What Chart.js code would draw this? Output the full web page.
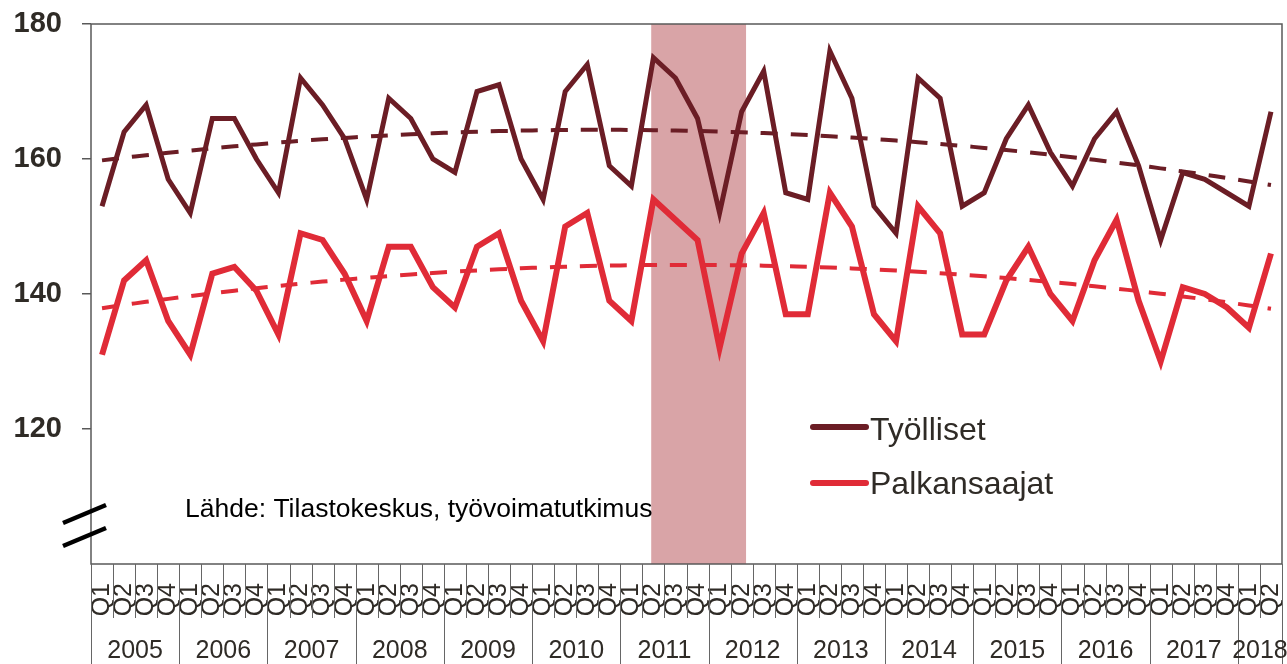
<!DOCTYPE html>
<html>
<head>
<meta charset="utf-8">
<script src="https://cdn.jsdelivr.net/npm/chart.js@4.4.1/dist/chart.umd.min.js"></script>
<style>
  html, body { margin: 0; padding: 0; background: #fff; }
  canvas { display: block; }
</style>
</head>
<body>
<canvas id="chart" width="1287" height="664"></canvas>
<script>
var years = ['2005', '2006', '2007', '2008', '2009', '2010', '2011', '2012', '2013', '2014', '2015', '2016', '2017', '2018'];
var quarters = [
  'Q1', 'Q2', 'Q3', 'Q4', 'Q1', 'Q2', 'Q3', 'Q4', 'Q1', 'Q2', 'Q3', 'Q4', 'Q1', 'Q2', 'Q3', 'Q4',
  'Q1', 'Q2', 'Q3', 'Q4', 'Q1', 'Q2', 'Q3', 'Q4', 'Q1', 'Q2', 'Q3', 'Q4', 'Q1', 'Q2', 'Q3', 'Q4',
  'Q1', 'Q2', 'Q3', 'Q4', 'Q1', 'Q2', 'Q3', 'Q4', 'Q1', 'Q2', 'Q3', 'Q4', 'Q1', 'Q2', 'Q3', 'Q4',
  'Q1', 'Q2', 'Q3', 'Q4', 'Q1', 'Q2'
];

// Työlliset (employed), quarterly
var tyolliset = [
  153, 164, 168, 157,
  152, 166, 166, 160,
  155, 172, 168, 163,
  154, 169, 166, 160,
  158, 170, 171, 160,
  154, 170, 174, 159,
  156, 175, 172, 166,
  152, 167, 173, 155,
  154, 176, 169, 153,
  149, 172, 169, 153,
  155, 163, 168, 161,
  156, 163, 167, 159,
  148, 158, 157, 155,
  153, 167
];

// Palkansaajat (wage earners), quarterly
var palkansaajat = [
  131, 142, 145, 136,
  131, 143, 144, 140.5,
  134, 149, 148, 143,
  136, 147, 147, 141,
  138, 147, 149, 139,
  133, 150, 152, 139,
  136, 154, 151, 148,
  132, 146, 152, 137,
  137, 155, 150, 137,
  133, 153, 149, 134,
  134, 142, 147, 140,
  136, 145, 151, 139,
  130, 141, 140, 138,
  135, 146
];

var yTicks = [120, 140, 160, 180];

var darkRed = '#6b1d25';
var red = '#e02b37';
var shadeColor = '#d9a4a7';
var textColor = '#2f2b26';
var axisColor = '#595959';
var font = '"Liberation Sans", Arial, sans-serif';

// shaded period (category positions), 2011 Q2 .. 2012 Q2
var shadeFrom = 24.9, shadeTo = 29.2;

// 2nd order polynomial trend, like the spreadsheet trendline
function polyTrend(values) {
  var n = values.length, s = [0, 0, 0, 0, 0], t = [0, 0, 0];
  for (var i = 0; i < n; i++) {
    var p = 1;
    for (var k = 0; k < 5; k++) { s[k] += p; if (k < 3) t[k] += p * values[i]; p *= i; }
  }
  var m = [[s[0], s[1], s[2], t[0]], [s[1], s[2], s[3], t[1]], [s[2], s[3], s[4], t[2]]];
  for (var c = 0; c < 3; c++) {
    for (var r = c + 1; r < 3; r++) {
      var f = m[r][c] / m[c][c];
      for (var q = c; q < 4; q++) m[r][q] -= f * m[c][q];
    }
  }
  var b = [0, 0, 0];
  for (var r2 = 2; r2 >= 0; r2--) {
    var sum = m[r2][3];
    for (var q2 = r2 + 1; q2 < 3; q2++) sum -= m[r2][q2] * b[q2];
    b[r2] = sum / m[r2][r2];
  }
  return values.map(function(v, i) { return b[0] + b[1] * i + b[2] * i * i; });
}

var decorations = {
  id: 'decorations',
  beforeDatasetsDraw: function(chart) {
    var ctx = chart.ctx, area = chart.chartArea, x = chart.scales.x;
    var x0 = x.getPixelForValue(shadeFrom), x1 = x.getPixelForValue(shadeTo);
    ctx.save();
    ctx.fillStyle = shadeColor;
    ctx.fillRect(x0, area.top, x1 - x0, area.bottom - area.top);
    ctx.restore();
  },
  afterDraw: function(chart) {
    var ctx = chart.ctx, area = chart.chartArea, x = chart.scales.x;
    var H = chart.height;
    ctx.save();

    // frame
    ctx.strokeStyle = axisColor;
    ctx.lineWidth = 1.5;
    ctx.strokeRect(area.left, area.top, area.right - area.left, area.bottom - area.top);

    // quarter separators and year separators
    ctx.lineWidth = 1;
    ctx.strokeStyle = '#666';
    for (var k = 0; k <= quarters.length; k++) {
      var px = Math.round(x.getPixelForValue(k - 0.5)) + 0.5;
      var full = (k % 4 === 0) || k === quarters.length;
      ctx.beginPath();
      ctx.moveTo(px, area.bottom);
      ctx.lineTo(px, full ? H : area.bottom + 54);
      ctx.stroke();
    }

    // year labels
    ctx.fillStyle = textColor;
    ctx.font = '25px ' + font;
    ctx.textAlign = 'center';
    ctx.textBaseline = 'alphabetic';
    years.forEach(function(yr, i) {
      var a = i * 4, b = Math.min(a + 4, quarters.length) - 1;
      var cx = (x.getPixelForValue(a - 0.5) + x.getPixelForValue(b + 0.5)) / 2;
      ctx.fillText(yr, cx, 658);
    });

    // legend
    ctx.lineCap = 'round';
    ctx.lineWidth = 6;
    ctx.strokeStyle = darkRed;
    ctx.beginPath(); ctx.moveTo(813, 427); ctx.lineTo(866, 427); ctx.stroke();
    ctx.strokeStyle = red;
    ctx.beginPath(); ctx.moveTo(813, 483); ctx.lineTo(866, 483); ctx.stroke();
    ctx.font = '32px ' + font;
    ctx.textAlign = 'left';
    ctx.fillStyle = textColor;
    ctx.fillText('Työlliset', 870, 440);
    ctx.fillText('Palkansaajat', 870, 494);

    // source
    ctx.font = '26.5px ' + font;
    ctx.fillStyle = '#000';
    ctx.fillText('Lähde: Tilastokeskus, työvoimatutkimus', 185, 517);

    // axis break marks
    ctx.lineCap = 'butt';
    ctx.lineWidth = 4.5;
    ctx.strokeStyle = '#000';
    ctx.beginPath(); ctx.moveTo(63, 523); ctx.lineTo(106, 505); ctx.stroke();
    ctx.beginPath(); ctx.moveTo(63, 546); ctx.lineTo(106, 528); ctx.stroke();

    ctx.restore();
  }
};

var config = {
  type: 'line',
  data: {
    labels: quarters,
    datasets: [{
      label: 'Työlliset',
      data: tyolliset,
      borderColor: darkRed,
      borderWidth: 5,
      pointRadius: 0,
      tension: 0,
      order: 1
    }, {
      label: 'Palkansaajat',
      data: palkansaajat,
      borderColor: red,
      borderWidth: 6,
      pointRadius: 0,
      tension: 0,
      order: 2
    }, {
      label: 'Työlliset trend',
      data: polyTrend(tyolliset),
      borderColor: darkRed,
      borderWidth: 4,
      borderDash: [17, 13],
      pointRadius: 0,
      tension: 0.4,
      order: 3
    }, {
      label: 'Palkansaajat trend',
      data: polyTrend(palkansaajat),
      borderColor: red,
      borderWidth: 4,
      borderDash: [17, 13],
      pointRadius: 0,
      tension: 0.4,
      order: 4
    }]
  },
  options: {
    responsive: false,
    animation: false,
    layout: { padding: { top: 24, right: 5, left: 0, bottom: 0 } },
    plugins: {
      legend: { display: false },
      tooltip: { enabled: false }
    },
    scales: {
      x: {
        offset: true,
        grid: { display: false, drawTicks: false },
        border: { display: false },
        ticks: {
          autoSkip: false,
          minRotation: 90,
          maxRotation: 90,
          padding: 19,
          color: textColor,
          font: { family: font, size: 25 }
        },
        afterFit: function(s) {
          s.height = 100;
          s.paddingLeft = 0; s.paddingRight = 0; s.paddingTop = 0; s.paddingBottom = 0;
        }
      },
      y: {
        min: 100,
        max: 180,
        afterBuildTicks: function(s) {
          s.ticks = [100].concat(yTicks).map(function(v) { return { value: v }; });
        },
        ticks: {
          padding: 20,
          color: textColor,
          font: { family: font, size: 29, weight: 'bold' },
          callback: function(v) { return v === 100 ? '' : v; }
        },
        grid: {
          drawOnChartArea: false,
          tickLength: 9,
          lineWidth: 1.5,
          color: function(c) { return c.tick && c.tick.value === 100 ? 'rgba(0,0,0,0)' : axisColor; }
        },
        border: { display: false },
        afterFit: function(s) {
          s.width = 91;
          s.paddingLeft = 0; s.paddingRight = 0; s.paddingTop = 0; s.paddingBottom = 0;
        }
      }
    }
  },
  plugins: [decorations]
};

window.onload = function() {
  window.myChart = new Chart(document.getElementById('chart'), config);
};
</script>
</body>
</html>
